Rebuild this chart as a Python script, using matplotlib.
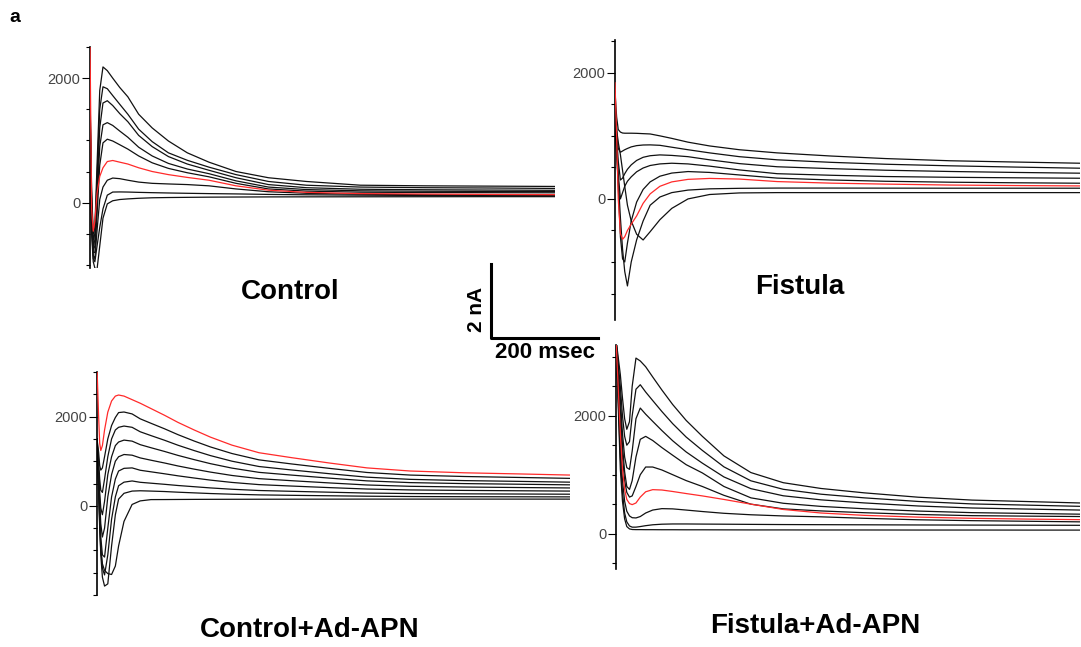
import matplotlib
matplotlib.use('Agg')
import matplotlib.pyplot as plt
from matplotlib.ticker import MultipleLocator
from matplotlib.lines import Line2D

plt.rcParams['font.family'] = 'Liberation Sans'

# ---- Control ----  (time in msec, current in pA); trace 6 (index 5) is red
ctrl_t = [0, 3, 6, 9, 13, 18, 24, 32, 42, 55, 70, 90, 115, 145, 180, 220, 270, 330, 400, 500, 620, 740, 860]
ctrl_i = [
    [1800, 200, -500, -400, 600, 1800, 2180, 2120, 2000, 1850, 1700, 1420, 1200, 990, 800, 650, 500, 400, 340, 280, 270, 265, 260],
    [1700, 100, -600, -500, 400, 1500, 1861, 1830, 1720, 1580, 1420, 1180, 980, 800, 680, 570, 450, 340, 280, 250, 240, 235, 228],
    [1600, 0, -700, -600, 200, 1200, 1600, 1637, 1560, 1430, 1300, 1080, 900, 740, 620, 520, 400, 290, 240, 215, 207, 202, 198],
    [1500, -100, -750, -700, 0, 900, 1250, 1285, 1240, 1150, 1050, 890, 750, 630, 540, 465, 350, 250, 210, 190, 183, 180, 178],
    [1400, -200, -800, -800, -200, 600, 960, 1019, 990, 930, 860, 750, 640, 550, 480, 415, 310, 220, 185, 168, 162, 160, 158],
    [2600, -100, -459, -300, 150, 420, 560, 660, 677, 650, 620, 560, 500, 450, 405, 360, 270, 200, 165, 145, 138, 132, 128],
    [1300, -300, -850, -900, -450, 50, 250, 360, 395, 385, 360, 330, 310, 300, 290, 270, 220, 175, 150, 135, 126, 121, 118],
    [1200, -400, -900, -950, -700, -400, -100, 120, 170, 172, 170, 165, 160, 155, 150, 145, 140, 132, 126, 120, 115, 112, 110],
    [1100, -500, -950, -1050, -1070, -700, -250, -20, 30, 50, 60, 70, 78, 82, 85, 88, 90, 92, 93, 94, 95, 96, 96],
]
ctrl_red = 5

# ---- Fistula ----
fist_t = [0, 3, 6, 10, 14, 18, 23, 30, 40, 52, 65, 83, 105, 135, 175, 230, 300, 400, 500, 620, 740, 860]
fist_i = [
    [1700, 1300, 1100, 1060, 1045, 1042, 1042, 1042, 1040, 1035, 1030, 1000, 960, 900, 840, 780, 730, 680, 640, 605, 585, 566],
    [1500, 1100, 800, 740, 760, 780, 800, 825, 845, 855, 857, 850, 820, 780, 730, 670, 620, 580, 550, 525, 505, 487],
    [1400, 1000, 600, 300, 330, 400, 470, 540, 610, 660, 685, 698, 690, 670, 620, 560, 510, 480, 455, 435, 420, 408],
    [1300, 900, 400, 0, 100, 200, 280, 350, 430, 490, 530, 555, 566, 555, 520, 460, 400, 375, 355, 343, 335, 328],
    [1200, 800, 200, -600, -950, -1000, -700, -350, -50, 150, 270, 360, 410, 434, 420, 380, 330, 300, 280, 265, 256, 249],
    [1841, 1000, 0, -550, -640, -600, -500, -400, -270, -70, 80, 200, 270, 310, 325, 315, 275, 250, 235, 220, 212, 206],
    [1100, 700, 300, -300, -800, -1150, -1380, -1000, -650, -350, -100, 30, 100, 140, 160, 168, 172, 172, 171, 170, 170, 170],
    [1400, 1100, 900, 700, 450, 200, -100, -350, -560, -651, -520, -330, -150, 0, 70, 95, 100, 100, 100, 100, 100, 100],
]
fist_red = 5

# ---- Control+Ad-APN ----
capn_t = [0, 3, 5, 7, 10, 14, 20, 27, 34, 40, 50, 65, 80, 100, 125, 150, 180, 210, 250, 300, 360, 430, 500, 580, 680, 780, 876]
capn_i = [
    [3100, 2000, 1400, 1240, 1350, 1700, 2100, 2350, 2460, 2484, 2460, 2380, 2300, 2180, 2030, 1870, 1700, 1540, 1360, 1190, 1080, 960, 850, 780, 740, 715, 689],
    [1500, 1200, 900, 800, 850, 1100, 1500, 1800, 1980, 2090, 2103, 2060, 1950, 1850, 1727, 1595, 1452, 1320, 1172, 1030, 939, 840, 747, 689, 657, 636, 615],
    [1500, 1000, 600, 350, 300, 600, 1100, 1500, 1700, 1760, 1788, 1760, 1660, 1574, 1470, 1358, 1238, 1126, 1000, 881, 804, 720, 642, 593, 565, 548, 530],
    [1500, 800, 300, -50, -200, 100, 700, 1100, 1350, 1430, 1473, 1450, 1371, 1302, 1219, 1130, 1035, 945, 845, 750, 689, 621, 559, 520, 498, 484, 470],
    [1500, 700, 100, -400, -700, -500, 200, 700, 1000, 1100, 1150, 1135, 1074, 1022, 960, 893, 822, 756, 680, 609, 563, 513, 467, 437, 421, 410, 400],
    [1500, 600, -100, -700, -1100, -1150, -500, 200, 600, 780, 840, 850, 797, 762, 718, 672, 623, 576, 524, 475, 443, 408, 376, 356, 345, 337, 330],
    [1500, 500, -300, -900, -1400, -1550, -1100, -300, 200, 450, 530, 557, 527, 507, 482, 455, 428, 401, 371, 343, 325, 305, 286, 275, 268, 264, 260],
    [1500, 400, -400, -1100, -1600, -1800, -1750, -900, -200, 150, 280, 330, 337, 330, 320, 305, 290, 275, 260, 245, 235, 225, 215, 208, 204, 202, 200],
    [1500, 300, -500, -1000, -1300, -1450, -1520, -1540, -1350, -900, -350, 30, 110, 139, 140, 142, 144, 145, 146, 147, 148, 149, 150, 150, 150, 150, 150],
]
capn_red = 0

# ---- Fistula+Ad-APN ----
fapn_t = [0, 4, 8, 12, 16, 20, 25, 30, 37, 45, 55, 68, 85, 105, 130, 160, 200, 250, 310, 380, 460, 560, 660, 760, 860]
fapn_i = [
    [3300, 3000, 2700, 2300, 1950, 1770, 1900, 2500, 2978, 2929, 2831, 2658, 2437, 2191, 1921, 1651, 1319, 1036, 864, 766, 692, 618, 569, 545, 520],
    [3300, 2900, 2500, 2000, 1650, 1500, 1560, 2000, 2450, 2526, 2402, 2258, 2072, 1866, 1639, 1412, 1133, 896, 752, 669, 607, 546, 504, 484, 463],
    [3300, 2800, 2300, 1700, 1300, 1120, 1090, 1400, 1950, 2130, 2026, 1905, 1749, 1576, 1386, 1196, 962, 763, 642, 573, 521, 469, 435, 417, 400],
    [3300, 2700, 2100, 1500, 1050, 800, 750, 900, 1300, 1600, 1650, 1580, 1460, 1330, 1170, 1030, 800, 607, 515, 462, 422, 383, 356, 343, 330],
    [3300, 2600, 1900, 1300, 900, 700, 620, 640, 800, 1000, 1130, 1130, 1080, 1000, 900, 800, 650, 500, 420, 385, 355, 325, 305, 297, 290],
    [3300, 2500, 1700, 1100, 750, 580, 510, 492, 520, 620, 710, 746, 740, 715, 680, 640, 580, 500, 410, 350, 310, 280, 260, 247, 237],
    [3300, 2400, 1500, 900, 550, 380, 300, 270, 266, 290, 350, 400, 424, 420, 400, 375, 345, 320, 300, 285, 260, 235, 220, 210, 200],
    [3300, 2300, 1300, 700, 350, 200, 130, 110, 110, 120, 135, 150, 160, 164, 164, 162, 160, 157, 154, 152, 150, 147, 145, 143, 141],
    [3300, 2200, 1100, 550, 250, 120, 80, 70, 68, 68, 67, 67, 66, 66, 65, 65, 64, 63, 63, 62, 62, 61, 61, 60, 60],
]
fapn_red = 5

titles = ['Control', 'Fistula', 'Control+Ad-APN', 'Fistula+Ad-APN']

W, H = 1081, 647
fig = plt.figure(figsize=(W / 100, H / 100), dpi=100)
fig.patch.set_facecolor('white')


def px_axes(left, top, right, bottom):
    return fig.add_axes([left / W, 1 - bottom / H, (right - left) / W, (bottom - top) / H])


def draw(ax, t, traces, red, ylim, xmax):
    for k, y in enumerate(traces):
        if k == red:
            continue
        ax.plot(t, y, color='#111111', lw=0.9)
    ax.plot(t, traces[red], color='#ff2a2a', lw=0.9, zorder=3)
    ax.set_xlim(0, xmax)
    ax.set_ylim(*ylim)
    for s in ['top', 'right', 'bottom']:
        ax.spines[s].set_visible(False)
    ax.spines['left'].set_linewidth(1.2)
    ax.set_xticks([])
    ax.set_yticks([0, 2000])
    ax.set_yticklabels(['0', '2000'])
    ax.yaxis.set_minor_locator(MultipleLocator(500))
    ax.tick_params(axis='y', which='major', length=6, width=0.8, labelsize=10.5,
                   labelcolor='#444444', pad=1)
    ax.tick_params(axis='y', which='minor', length=3, width=0.8)
    ax.patch.set_alpha(0)


ax1 = px_axes(90, 47, 555, 268)
draw(ax1, ctrl_t, ctrl_i, ctrl_red, (-1050, 2500), 860)
ax2 = px_axes(615, 40, 1080, 320)
draw(ax2, fist_t, fist_i, fist_red, (-1920, 2520), 860)
ax3 = px_axes(97, 372, 570, 595)
draw(ax3, capn_t, capn_i, capn_red, (-2000, 3000), 876)
ax4 = px_axes(616, 345, 1080, 569)
draw(ax4, fapn_t, fapn_i, fapn_red, (-600, 3200), 860)

# panel titles
for (x, y), s in zip([(290, 292), (800, 287), (310, 630), (815, 626)], titles):
    fig.text(x / W, 1 - y / H, s, ha='center', va='center', fontsize=20, fontweight='bold')

fig.text(15 / W, 1 - 18 / H, 'a', ha='center', va='center', fontsize=14, fontweight='bold')

# scale bar
fig.add_artist(Line2D([491 / W, 491 / W, 598 / W], [1 - 264 / H, 1 - 338 / H, 1 - 338 / H],
                      transform=fig.transFigure, color='black', lw=2.2))
fig.text(477 / W, 1 - 309 / H, '2 nA', rotation=90, ha='center', va='center',
         fontsize=15, fontweight='bold')
fig.text(545 / W, 1 - 352 / H, '200 msec', ha='center', va='center',
         fontsize=16, fontweight='bold')

fig.savefig('out.png', dpi=100)
